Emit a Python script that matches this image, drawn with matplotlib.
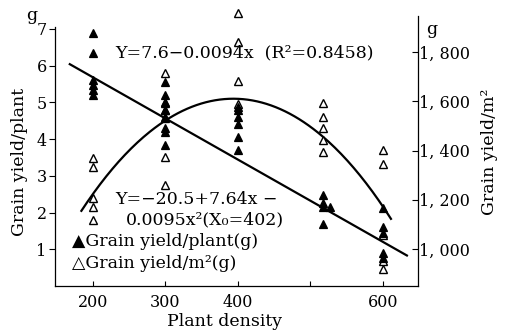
import numpy as np
import matplotlib
matplotlib.use("Agg")
import matplotlib.pyplot as plt

# ---------------- data ----------------
dens_200, dens_300, dens_400, dens_517, dens_527, dens_600 = 200, 300, 400, 517, 527, 600

plant_200 = [6.9, 6.33, 5.6, 5.47, 5.33, 5.2]
plant_300 = [5.55, 5.2, 5.0, 4.8, 4.6, 4.3, 4.2, 3.85]
plant_400 = [4.87, 4.78, 4.6, 4.4, 4.05, 3.7]
plant_517 = [2.47, 2.25, 2.15, 1.7]
plant_527 = [2.15]
plant_600 = [2.12, 1.6, 1.45, 0.9, 0.75]

area_200 = [1369, 1334, 1206, 1172, 1118]
area_300 = [1716, 1592, 1565, 1531, 1375, 1260]
area_400 = [1960, 1840, 1684, 1590]
area_517 = [1594, 1537, 1490, 1443, 1395]
area_600 = [1402, 1345, 1057, 950, 920]

# regression line for grain yield/plant (as drawn)
line_x = [168, 633]
line_intercept, line_slope = 7.92, -0.0112

# quadratic-like curve for grain yield/m2, traced points
curve_x = [184, 217, 262, 299, 334, 393, 465, 506, 552, 587, 611]
curve_y = [1159, 1280, 1443, 1524, 1573, 1602, 1564, 1490, 1348, 1226, 1125]

x_ticks = [200, 300, 400, 500, 600]
x_ticklabels = ["200", "300", "400", "", "600"]
left_ticks = [1, 2, 3, 4, 5, 6, 7]
right_ticks = [1000, 1200, 1400, 1600, 1800]
right_ticklabels = ["1, 000", "1, 200", "1, 400", "1, 600", "1, 800"]

# ---------------- figure ----------------
W, H = 506, 336
fig = plt.figure(figsize=(W / 100, H / 100), dpi=100)
SERIF = ["DejaVu Serif", "DejaVu Sans"]
plt.rcParams["font.family"] = SERIF


def fx(px):
    return px / W


def fy(py):
    return 1 - py / H


L, R, B, T = 55, 418, 286, 16
ax = fig.add_axes([fx(L), fy(B), fx(R) - fx(L), fy(T) - fy(B)])
ax2 = ax.twinx()

ax.set_xlim(147.6, 648.3)
ax.set_ylim(0, 7.35)
ax2.set_ylim(850, 1946.5)

for a in (ax, ax2):
    a.spines["top"].set_visible(False)
    a.patch.set_visible(False)
ax.spines["right"].set_visible(False)
ax2.spines["left"].set_visible(False)
ax2.spines["bottom"].set_visible(False)
ax.spines["left"].set_bounds(0, 7.05)
for s in ("left", "bottom"):
    ax.spines[s].set_linewidth(0.9)
ax2.spines["right"].set_linewidth(0.9)

tfs = 11.5
ax.set_xticks(x_ticks)
ax.set_xticklabels(x_ticklabels, fontsize=tfs)
ax.tick_params(axis="x", direction="in", length=3.5, width=0.8, pad=6)
ax.set_yticks(left_ticks)
ax.set_yticklabels([str(t) for t in left_ticks], fontsize=tfs)
ax.tick_params(axis="y", direction="out", length=4, width=0.8, pad=2)
ax2.set_yticks(right_ticks)
ax2.set_yticklabels(right_ticklabels, fontsize=tfs)
ax2.tick_params(axis="y", direction="in", length=4, width=0.8, pad=1)

# regression line
lx = np.array(line_x)
ax.plot(lx, line_intercept + line_slope * lx, color="black", lw=1.6, zorder=3)

# curve
coef = np.polyfit(curve_x, curve_y, 4)
cx = np.linspace(curve_x[0], curve_x[-1], 200)
ax2.plot(cx, np.polyval(coef, cx), color="black", lw=1.6, zorder=3)

# markers
ms = 6
filled = dict(marker="^", ms=ms, mfc="black", mec="black", mew=0.9, ls="none",
              clip_on=False, zorder=4)
opened = dict(marker="^", ms=ms, mfc="white", mec="black", mew=1.0, ls="none",
              clip_on=False, zorder=5)

for d, vals in [(dens_200, area_200), (dens_300, area_300), (dens_400, area_400),
                (dens_517, area_517), (dens_600, area_600)]:
    ax2.plot([d] * len(vals), vals, **opened)
for d, vals in [(dens_200, plant_200), (dens_300, plant_300), (dens_400, plant_400),
                (dens_517, plant_517), (dens_527, plant_527), (dens_600, plant_600)]:
    ax.plot([d] * len(vals), vals, **filled)
ax.set_zorder(ax2.get_zorder() + 1)

# ---------------- texts ----------------
fs = 12.5
fig.text(fx(32), fy(15), "g", fontsize=fs, ha="center", va="center")
fig.text(fx(432), fy(30), "g", fontsize=fs, ha="center", va="center")
fig.text(fx(20), fy(162), "Grain yield/plant", fontsize=fs, rotation=90,
         ha="center", va="center")
fig.text(fx(490), fy(152), "Grain yield/m²", fontsize=fs, rotation=90,
         ha="center", va="center")
fig.text(fx(225), fy(322), "Plant density", fontsize=fs, ha="center", va="center")

fig.text(fx(115), fy(53), "Y=7.6−0.0094x  (R²=0.8458)", fontsize=fs,
         ha="left", va="center")
fig.text(fx(115), fy(199), "Y=−20.5+7.64x −", fontsize=fs, ha="left", va="center")
fig.text(fx(126), fy(220), "0.0095x²(X₀=402)", fontsize=fs, ha="left", va="center")
fig.text(fx(72), fy(241), "▲Grain yield/plant(g)", fontsize=fs, ha="left", va="center")
fig.text(fx(72), fy(264), "△Grain yield/m²(g)", fontsize=fs, ha="left", va="center")

fig.savefig("out.png", dpi=100)
